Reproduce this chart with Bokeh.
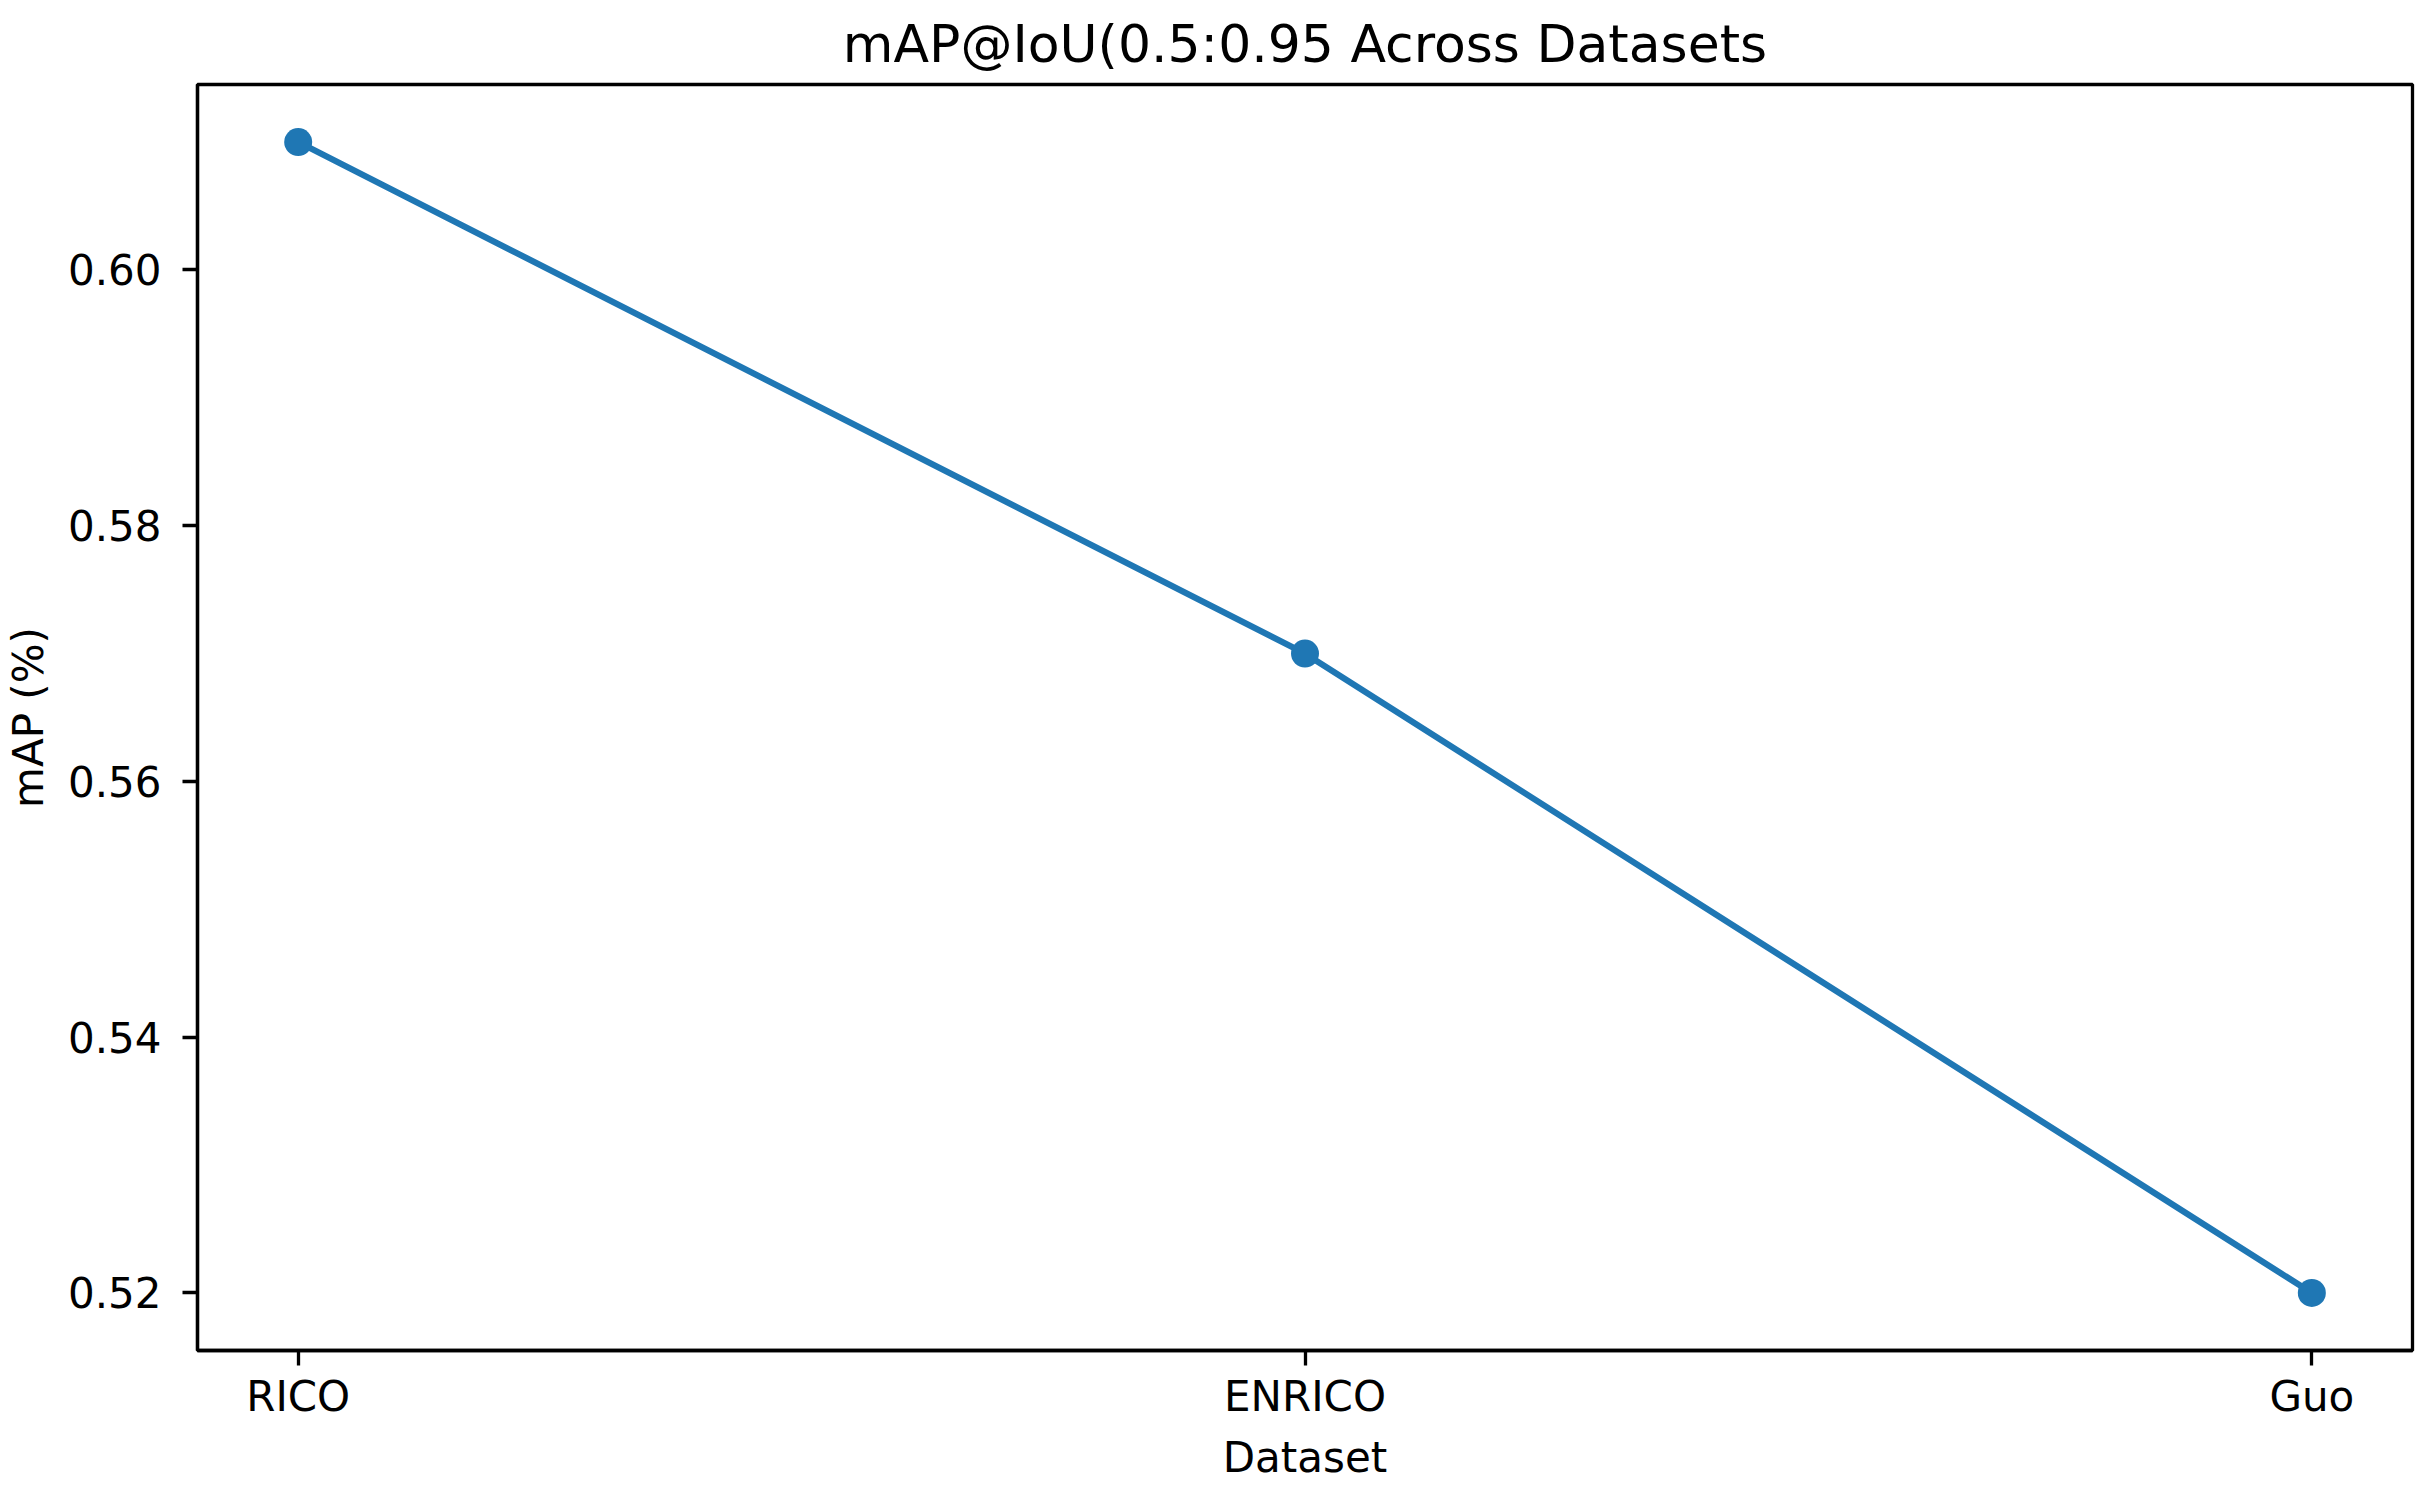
from bokeh.plotting import figure
from bokeh.models import Range1d, FixedTicker, NumeralTickFormatter
from bokeh.embed import file_html
from bokeh.resources import INLINE

# ---- data ----
datasets = ["RICO", "ENRICO", "Guo"]
map_values = [0.61, 0.57, 0.52]
y_ticks = [0.52, 0.54, 0.56, 0.58, 0.60]
title_text = "mAP@IoU(0.5:0.95 Across Datasets"
x_label = "Dataset"
y_label = "mAP (%)"

FONT = "DejaVu Sans"
BLUE = "#1f77b4"

xs = list(range(len(datasets)))
ymin, ymax = min(map_values), max(map_values)
yspan = ymax - ymin
xspan = xs[-1] - xs[0]

p = figure(
    width=2416, height=1484,
    x_range=Range1d(xs[0] - 0.05 * xspan, xs[-1] + 0.05 * xspan),
    y_range=Range1d(ymin - 0.05 * yspan, ymax + 0.05 * yspan),
    output_backend="svg", toolbar_location=None,
    min_border_left=192, min_border_right=4,
    min_border_top=84, min_border_bottom=132,
)

p.title.text = title_text
p.title.text_font = FONT
p.title.text_font_size = "52px"
p.title.text_font_style = "normal"
p.title.text_color = "black"
p.title.align = "center"
p.title.standoff = 22

p.line(xs, map_values, line_color=BLUE, line_width=6.25)
p.scatter(xs, map_values, size=28, fill_color=BLUE, line_color=BLUE, line_width=0)

p.xgrid.visible = False
p.ygrid.visible = False
p.outline_line_color = "black"
p.outline_line_width = 3.3
p.outline_line_alpha = 1.0
p.background_fill_color = "white"
p.border_fill_color = "white"

p.xaxis.ticker = FixedTicker(ticks=xs)
p.xaxis.major_label_overrides = {i: d for i, d in zip(xs, datasets)}
p.yaxis.ticker = FixedTicker(ticks=y_ticks)
p.yaxis.formatter = NumeralTickFormatter(format="0.00")

for ax in (p.xaxis[0], p.yaxis[0]):
    ax.axis_line_color = "black"
    ax.axis_line_width = 3.3
    ax.major_tick_line_color = "black"
    ax.major_tick_line_width = 3.3
    ax.major_tick_out = 15
    ax.major_tick_in = 0
    ax.minor_tick_line_color = None
    ax.major_label_text_font = FONT
    ax.major_label_text_font_size = "42px"
    ax.major_label_text_color = "black"
    ax.axis_label_text_font = FONT
    ax.axis_label_text_font_size = "42px"
    ax.axis_label_text_font_style = "normal"
    ax.axis_label_text_color = "black"

p.xaxis.axis_label = x_label
p.yaxis.axis_label = y_label
p.xaxis.major_label_standoff = 6
p.xaxis.axis_label_standoff = 9
p.yaxis.major_label_standoff = 21
p.yaxis.axis_label_standoff = 12

open("out.html", "w").write(file_html(p, INLINE))
